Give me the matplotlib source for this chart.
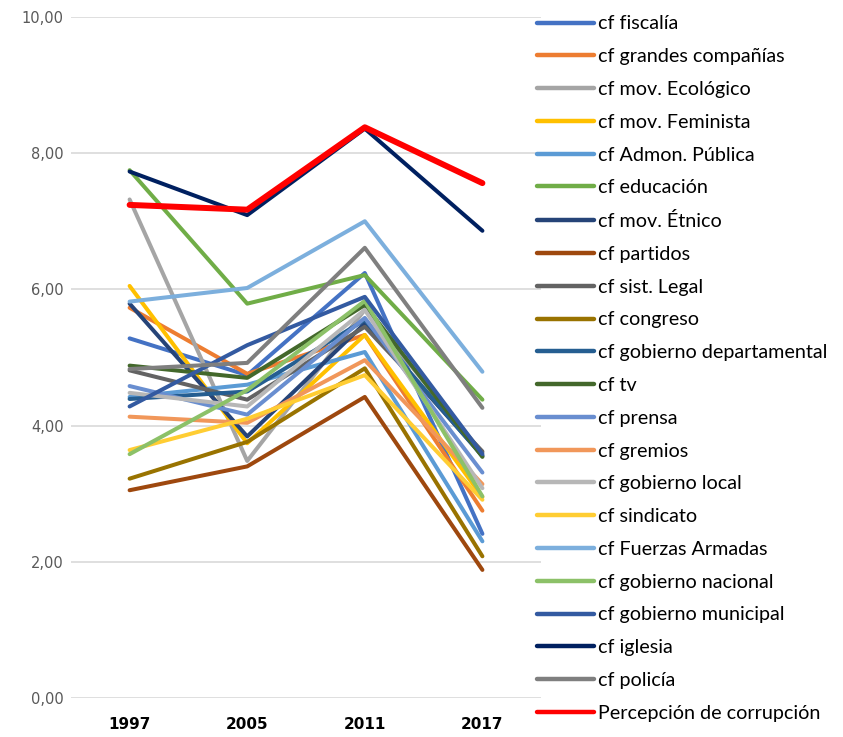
import matplotlib.pyplot as plt
from matplotlib.ticker import FuncFormatter

plt.rcParams['font.family'] = ['Lato', 'DejaVu Sans']

anios = ['1997', '2005', '2011', '2017']

fiscalia = [5.28, 4.74, 6.24, 2.41]
grandes_companias = [5.73, 4.76, 5.33, 2.75]
mov_ecologico = [7.32, 3.48, 5.70, 3.60]
mov_feminista = [6.05, 3.74, 5.33, 2.95]
admon_publica = [4.42, 4.60, 5.08, 2.30]
educacion = [7.75, 5.79, 6.21, 4.38]
mov_etnico = [5.79, 3.84, 5.50, 3.56]
partidos = [3.05, 3.40, 4.42, 1.88]
sist_legal = [4.81, 4.38, 5.45, 3.62]
congreso = [3.22, 3.76, 4.84, 2.08]
gob_departamental = [4.39, 4.50, 5.55, 3.55]
tv = [4.88, 4.70, 5.77, 3.54]
prensa = [4.58, 4.16, 5.58, 3.31]
gremios = [4.13, 4.04, 4.96, 3.14]
gob_local = [4.48, 4.28, 5.70, 3.08]
sindicato = [3.64, 4.10, 4.74, 2.91]
fuerzas_armadas = [5.82, 6.02, 7.00, 4.79]
gob_nacional = [3.58, 4.52, 5.83, 2.96]
gob_municipal = [4.28, 5.18, 5.89, 3.58]
iglesia = [7.73, 7.09, 8.36, 6.86]
policia = [4.83, 4.92, 6.61, 4.26]
corrupcion = [7.24, 7.17, 8.38, 7.56]

series = [
    ('cf fiscalía', fiscalia, '#4472C4'),
    ('cf grandes compañías', grandes_companias, '#ED7D31'),
    ('cf mov. Ecológico', mov_ecologico, '#A5A5A5'),
    ('cf mov. Feminista', mov_feminista, '#FFC000'),
    ('cf Admon. Pública', admon_publica, '#5B9BD5'),
    ('cf educación', educacion, '#70AD47'),
    ('cf mov. Étnico', mov_etnico, '#264478'),
    ('cf partidos', partidos, '#9E480E'),
    ('cf sist. Legal', sist_legal, '#636363'),
    ('cf congreso', congreso, '#997300'),
    ('cf gobierno departamental', gob_departamental, '#255E91'),
    ('cf tv', tv, '#43682B'),
    ('cf prensa', prensa, '#698ED0'),
    ('cf gremios', gremios, '#F1975A'),
    ('cf gobierno local', gob_local, '#B7B7B7'),
    ('cf sindicato', sindicato, '#FFCD33'),
    ('cf Fuerzas Armadas', fuerzas_armadas, '#7CAFDD'),
    ('cf gobierno nacional', gob_nacional, '#8CC168'),
    ('cf gobierno municipal', gob_municipal, '#335AA1'),
    ('cf iglesia', iglesia, '#002060'),
    ('cf policía', policia, '#7F7F7F'),
    ('Percepción de corrupción', corrupcion, '#FF0000'),
]

fig = plt.figure(figsize=(8.43, 7.37), dpi=100)
ax = fig.add_axes([0.084, 0.053, 0.558, 0.924])

x = range(len(anios))
for nombre, valores, color in series:
    lw = 4.3 if nombre.startswith('Percep') else 2.9
    ax.plot(x, valores, color=color, lw=lw, label=nombre,
            solid_capstyle='round', solid_joinstyle='round')

ax.set_xlim(-0.5, len(anios) - 0.5)
ax.set_ylim(0, 10)
ax.set_yticks([0, 2, 4, 6, 8, 10])
ax.yaxis.set_major_formatter(FuncFormatter(lambda v, p: f'{v:.2f}'.replace('.', ',')))
ax.set_xticks(list(x))
ax.set_xticklabels(anios, fontweight='bold', fontsize=11, family='DejaVu Sans')
for t in ax.get_yticklabels():
    t.set_family('DejaVu Sans')
ax.tick_params(axis='y', colors='#595959', labelsize=10.5, length=0, pad=5)
ax.tick_params(axis='x', colors='black', length=0, pad=14)
ax.grid(axis='y', color='#D9D9D9', lw=1.2)
ax.set_axisbelow(True)
for s in ax.spines.values():
    s.set_visible(False)

leg = fig.legend(loc='upper left', bbox_to_anchor=(0.637, 0.979), frameon=False,
                 fontsize=14.2, handlelength=2.9, handletextpad=0.2,
                 labelspacing=0.80, borderpad=0, borderaxespad=0)
for h in leg.get_lines():
    h.set_linewidth(3.2)

plt.savefig('out.png', dpi=100)
